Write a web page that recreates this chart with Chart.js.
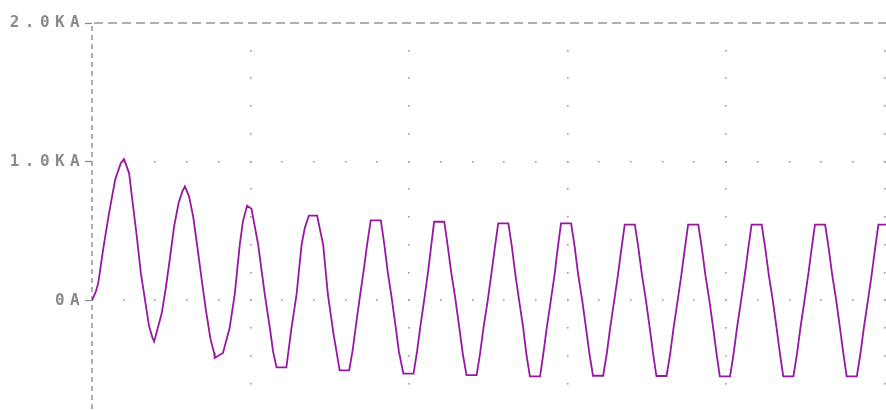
<!DOCTYPE html>
<html>
<head>
<meta charset="utf-8">
<script src="https://cdn.jsdelivr.net/npm/chart.js@4.4.1/dist/chart.umd.min.js"></script>
<style>
  html, body { margin: 0; padding: 0; background: #ffffff; }
  #wrap { width: 886px; height: 410px; position: relative; }
</style>
</head>
<body>
<div id="wrap"><canvas id="plot"></canvas></div>
<script>
// Transient current I(L1): time in ms, current in kA
const timeMs = [
  0, 1.2, 2.0, 3.5, 5.2, 7.3, 9.1, 10.1,
  11.7, 12.7, 14.0, 15.4, 16.7, 18.0, 19.1, 19.6,
  20.6, 22.0, 23.2, 24.5, 25.9, 27.3, 28.5, 29.3,
  30.6, 31.9, 33.2, 34.6, 35.9, 37.4, 38.5, 38.7, 41.3,
  43.4, 45.0, 46.6, 47.6, 48.9, 50.3,
  52.4, 54.5, 56.1, 57.1, 58.2, 61.3,
  62.9, 64.5, 66.1, 67.1, 68.4, 71.0,
  71.8, 72.9, 74.4, 76.2, 77.1, 78.1, 81.1,
  82.2, 83.3, 84.5, 85.7, 86.8, 87.9, 91.1,
  92.2, 93.3, 94.5, 95.7, 96.8, 98.2, 101.4,
  102.5, 103.6, 104.8, 106.0, 107.0, 107.9, 111.1,
  112.2, 113.3, 114.6, 115.8, 116.9, 118.1, 121.3,
  122.4, 123.5, 124.8, 126.0, 127.1, 128.1, 131.3,
  132.4, 133.5, 134.7, 136.0, 137.0, 138.1, 141.3,
  142.3, 143.4, 144.7, 145.9, 146.9, 147.9, 151.1,
  152.2, 153.3, 154.6, 155.8, 156.9, 158.0, 161.2,
  162.3, 163.4, 164.7, 165.9, 167.0, 168.0, 171.2,
  172.3, 173.4, 174.7, 175.9, 177.0, 178.0, 181.2,
  182.3, 183.4, 184.7, 185.9, 187.0, 188.0, 191.2,
  192.3, 193.4, 194.7, 195.9, 197.0, 198.0, 201.2,
  202.3, 203.4, 204.7, 205.9, 207.0, 208.0, 211.2,
  212.3, 213.4, 214.7, 215.9, 217.0, 218.0, 221.2,
  222.3, 223.4, 224.7, 225.9, 227.0, 228.0, 231.2,
  232.3, 233.4, 234.7, 235.9, 237.0, 238.0, 241.2,
  242.3, 243.4, 244.7, 245.9, 247.0, 248.0, 251.2
];
const currentKA = [
  0, 0.063, 0.128, 0.366, 0.606, 0.870, 0.991, 1.019,
  0.918, 0.726, 0.486, 0.198, 0.005, -0.187, -0.271, -0.296,
  -0.211, -0.091, 0.077, 0.293, 0.534, 0.702, 0.786, 0.822,
  0.750, 0.606, 0.389, 0.149, -0.067, -0.283, -0.377, -0.415, -0.379,
  -0.199, 0.041, 0.402, 0.570, 0.683, 0.661,
  0.402, 0.041, -0.199, -0.368, -0.483, -0.483,
  -0.199, 0.041, 0.402, 0.522, 0.611, 0.611,
  0.522, 0.402, 0.041, -0.247, -0.368, -0.505, -0.505,
  -0.36, -0.17, 0.03, 0.22, 0.41, 0.577, 0.577,
  0.40, 0.20, 0.02, -0.18, -0.37, -0.528, -0.528,
  -0.37, -0.18, 0.01, 0.21, 0.40, 0.567, 0.567,
  0.39, 0.20, 0.01, -0.19, -0.38, -0.538, -0.538,
  -0.38, -0.19, 0.00, 0.20, 0.39, 0.555, 0.555,
  0.39, 0.19, 0.00, -0.20, -0.39, -0.548, -0.548,
  -0.39, -0.20, 0.00, 0.19, 0.38, 0.555, 0.555,
  0.39, 0.19, 0.00, -0.20, -0.39, -0.543, -0.543,
  -0.39, -0.20, 0.00, 0.19, 0.38, 0.546, 0.546,
  0.38, 0.19, 0.00, -0.20, -0.39, -0.545, -0.545,
  -0.39, -0.20, 0.00, 0.19, 0.38, 0.546, 0.546,
  0.38, 0.19, 0.00, -0.20, -0.39, -0.548, -0.548,
  -0.39, -0.20, 0.00, 0.19, 0.38, 0.546, 0.546,
  0.38, 0.19, 0.00, -0.20, -0.39, -0.548, -0.548,
  -0.39, -0.20, 0.00, 0.19, 0.38, 0.546, 0.546,
  0.38, 0.19, 0.00, -0.20, -0.39, -0.548, -0.548,
  -0.39, -0.20, 0.00, 0.19, 0.38, 0.546, 0.546
];

// Axis ticks
const yTickValues = [0, 1, 2];
const yTickLabels = ['0A', '1.0KA', '2.0KA'];
const gridColumnsMs = [50, 100, 150, 200, 250];
const gridRowsKA = [0, 1];
const minorStepMs = 10;
const minorStepKA = 0.2;

const axisGrey = '#8a8a8a';

// Dotted grid, dashed current axis and dashed top border, placed through the chart's scales
const probeGrid = {
  id: 'probeGrid',
  beforeDraw(chart) {
    chart.ctx.letterSpacing = '5.4px';
  },
  beforeDatasetsDraw(chart) {
    const { ctx, chartArea: a, scales: { x, y } } = chart;
    ctx.save();
    ctx.letterSpacing = '0px';
    ctx.fillStyle = '#9c9c9c';
    const dot = (px, py) => ctx.fillRect(Math.round(px) - 1, Math.round(py) - 1, 1.6, 1.6);
    // dots along the major time columns, one per minor current step
    for (const t of gridColumnsMs) {
      const px = x.getPixelForValue(t);
      if (px > a.right + 1) continue;
      for (let k = Math.ceil(y.min / minorStepKA); k * minorStepKA < y.max - 1e-6; k++) {
        dot(px, y.getPixelForValue(k * minorStepKA));
      }
    }
    // dots along the major current rows, one per minor time step
    for (const v of gridRowsKA) {
      const py = y.getPixelForValue(v);
      for (let k = 1; k * minorStepMs <= x.max; k++) {
        dot(x.getPixelForValue(k * minorStepMs), py);
      }
    }
    ctx.strokeStyle = '#959595';
    ctx.lineWidth = 1.5;
    // dashed top border at the upper current limit
    const top = Math.round(y.getPixelForValue(y.max));
    ctx.setLineDash([9, 5]);
    ctx.beginPath();
    ctx.moveTo(a.left + 2, top);
    ctx.lineTo(a.right, top);
    ctx.stroke();
    // dashed current axis
    const left = Math.round(x.getPixelForValue(x.min));
    ctx.setLineDash([5, 4]);
    ctx.beginPath();
    ctx.moveTo(left, top + 3);
    ctx.lineTo(left, a.bottom);
    ctx.stroke();
    ctx.restore();
  },
  afterDraw(chart) {
    chart.ctx.letterSpacing = '0px';
  }
};

new Chart(document.getElementById('plot'), {
  type: 'line',
  data: {
    datasets: [{
      label: 'I(L1)',
      data: timeMs.map((t, i) => ({ x: t, y: currentKA[i] })),
      borderColor: '#9618a0',
      borderWidth: 1.8,
      pointRadius: 0,
      tension: 0,
      fill: false
    }]
  },
  options: {
    responsive: true,
    maintainAspectRatio: false,
    animation: false,
    events: [],
    layout: { padding: { top: 23, right: 0, bottom: 0, left: 0 } },
    plugins: { legend: { display: false }, tooltip: { enabled: false } },
    scales: {
      x: {
        type: 'linear',
        min: 0,
        max: 250.4,
        display: false
      },
      y: {
        type: 'linear',
        min: -0.79,
        max: 2.0,
        afterBuildTicks(scale) {
          scale.ticks = yTickValues.map(v => ({ value: v }));
        },
        afterFit(scale) {
          scale.width = 92;
          scale.paddingTop = 0;
          scale.paddingBottom = 0;
        },
        ticks: {
          color: axisGrey,
          padding: 0,
          font: { family: 'DejaVu Sans Mono', size: 16, weight: 'bold' },
          callback(value) {
            const i = yTickValues.indexOf(value);
            return i >= 0 ? yTickLabels[i] : '';
          }
        },
        grid: {
          drawOnChartArea: false,
          drawTicks: true,
          tickLength: 7,
          tickColor: axisGrey,
          tickWidth: 1.3
        },
        border: { display: false }
      }
    }
  },
  plugins: [probeGrid]
});
</script>
</body>
</html>
